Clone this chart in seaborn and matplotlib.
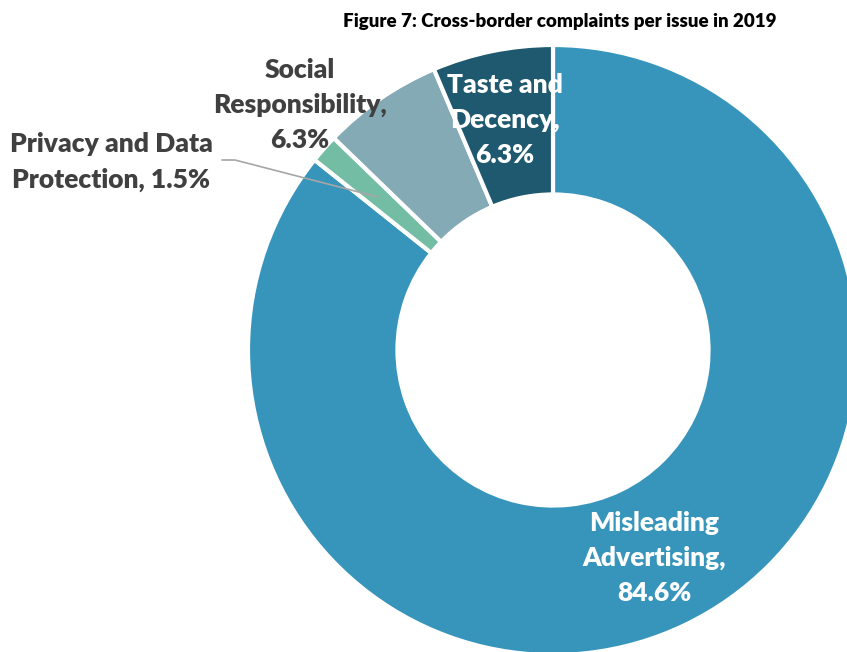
import matplotlib
matplotlib.use("Agg")
import matplotlib.pyplot as plt
import seaborn as sns

categories = ["Misleading Advertising", "Privacy and Data Protection",
              "Social Responsibility", "Taste and Decency"]
values = [84.6, 1.5, 6.3, 6.3]
labels = ["Misleading\nAdvertising,\n84.6%", "Privacy and Data\nProtection, 1.5%",
          "Social\nResponsibility,\n6.3%", "Taste and\nDecency,\n6.3%"]
colors = ["#3795BB", "#74BDA5", "#84AAB5", "#1F5970"]
title = "Figure 7: Cross-border complaints per issue in 2019"

sns.set_theme(style="white")
plt.rcParams['font.family'] = ['Lato', 'DejaVu Sans']

W, H = 847, 652
fig = plt.figure(figsize=(W / 100, H / 100), dpi=100)
ax = fig.add_axes([0, 0, 1, 1])

cx, cy, R = 553, H - 350, 305
wedges, _ = ax.pie(values, colors=sns.color_palette(colors), startangle=90,
                   counterclock=False, center=(cx, cy), radius=R,
                   wedgeprops=dict(width=R * 0.49, edgecolor="white", linewidth=3))
ax.set_xlim(0, W)
ax.set_ylim(0, H)
ax.set_aspect("equal")
ax.axis("off")

fs = 19
dark = "#404040"
kw = dict(ha="center", va="center", fontsize=fs, fontweight="heavy", linespacing=1.55)
ax.text(654, H - 558, labels[0], color="white", **kw)
ax.text(111, H - 162, labels[1], color=dark, **kw)
ax.text(300, H - 105, labels[2], color=dark, **kw)
ax.text(505, H - 120, labels[3], color="white", **kw)
ax.plot([222, 235, 378], [H - 160, H - 160, H - 197], color="#A6A6A6", lw=1.2)

ax.text(560, H - 22, title, ha="center", va="center", color="black",
        fontsize=13.5, fontweight="heavy")

fig.savefig("out.png", dpi=100)
